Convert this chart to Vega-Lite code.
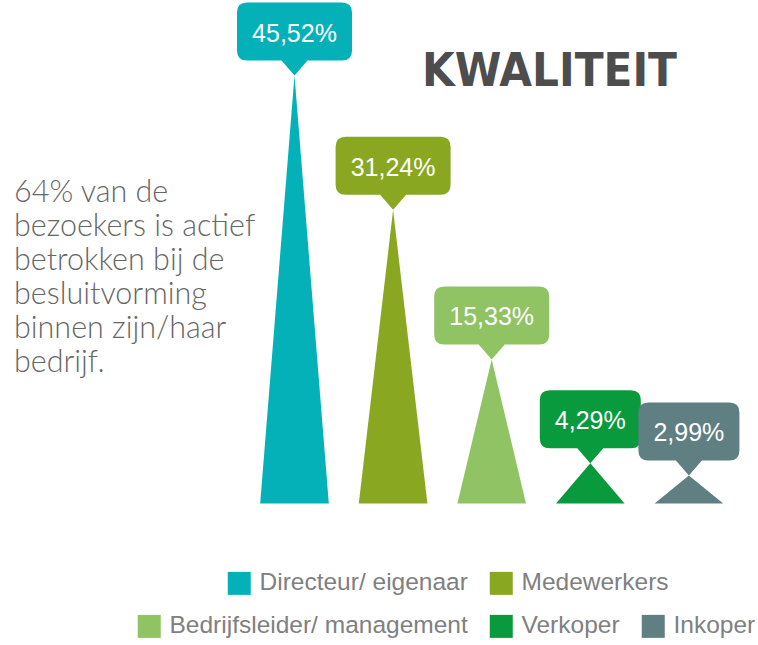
{
  "$schema": "https://vega.github.io/schema/vega-lite/v6.json",
  "width": 758,
  "height": 645,
  "autosize": "none",
  "padding": 0,
  "background": "#ffffff",
  "config": {"view": {"stroke": null}},
  "datasets": {
    "peaks": [
      {"cat": "Directeur/ eigenaar", "idx": 1, "pct": 45.52, "label": "45,52%"},
      {"cat": "Medewerkers", "idx": 2, "pct": 31.24, "label": "31,24%"},
      {"cat": "Bedrijfsleider/ management", "idx": 3, "pct": 15.33, "label": "15,33%"},
      {"cat": "Verkoper", "idx": 4, "pct": 4.29, "label": "4,29%"},
      {"cat": "Inkoper", "idx": 5, "pct": 2.99, "label": "2,99%"}
    ],
    "triangles": [
      {"cat": "Directeur/ eigenaar", "x": 0.652, "pct": 0},
      {"cat": "Directeur/ eigenaar", "x": 1, "pct": 45.52},
      {"cat": "Directeur/ eigenaar", "x": 1.348, "pct": 0},
      {"cat": "Medewerkers", "x": 1.652, "pct": 0},
      {"cat": "Medewerkers", "x": 2, "pct": 31.24},
      {"cat": "Medewerkers", "x": 2.348, "pct": 0},
      {"cat": "Bedrijfsleider/ management", "x": 2.652, "pct": 0},
      {"cat": "Bedrijfsleider/ management", "x": 3, "pct": 15.33},
      {"cat": "Bedrijfsleider/ management", "x": 3.348, "pct": 0},
      {"cat": "Verkoper", "x": 3.652, "pct": 0},
      {"cat": "Verkoper", "x": 4, "pct": 4.29},
      {"cat": "Verkoper", "x": 4.348, "pct": 0},
      {"cat": "Inkoper", "x": 4.652, "pct": 0},
      {"cat": "Inkoper", "x": 5, "pct": 2.99},
      {"cat": "Inkoper", "x": 5.348, "pct": 0}
    ],
    "texts": [
      {"kind": "title", "x": 4.879, "y": 44.4, "t": "KWALITEIT"},
      {"kind": "para", "x": -1.8448, "y": 32.07, "t": "64% van de\nbezoekers is actief\nbetrokken bij de\nbesluitvorming\nbinnen zijn/haar\nbedrijf."}
    ]
  },
  "resolve": {"scale": {"color": "independent"}},
  "layer": [
    {
      "layer": [
        {
          "data": {"name": "triangles"},
          "transform": [{"filter": {"field": "cat", "oneOf": ["Directeur/ eigenaar", "Medewerkers"]}}],
          "mark": {"type": "area", "opacity": 1, "interpolate": "linear"},
          "encoding": {
            "x": {"field": "x", "type": "quantitative", "axis": null, "scale": {"domain": [-1.9868, 5.7008], "nice": false, "zero": false}},
            "y": {"field": "pct", "type": "quantitative", "axis": null, "stack": null, "scale": {"domain": [-15.053, 53.564], "nice": false, "zero": false}},
            "y2": {"datum": 0},
            "detail": {"field": "cat"},
            "color": {
              "field": "cat", "type": "nominal",
              "scale": {"domain": ["Directeur/ eigenaar", "Medewerkers"], "range": ["#05B1B9", "#8AA722"]},
              "legend": {"orient": "none", "legendX": 227, "legendY": 571, "direction": "horizontal", "title": null, "symbolType": "square", "symbolSize": 529, "symbolStrokeWidth": 0, "symbolOpacity": 1, "labelFontSize": 24.5, "labelFont": "Liberation Sans", "labelColor": "#808080", "labelOffset": 8, "columnPadding": 21, "labelLimit": 400, "padding": 0}
            }
          }
        },
        {
          "data": {"name": "peaks"},
          "transform": [{"filter": "datum.idx <= 2"}],
          "mark": {"type": "point", "filled": true, "opacity": 1, "strokeWidth": 0, "size": 10000,
            "shape": "M0,0 L-0.26,-0.3 L-0.95,-0.3 Q-1.15,-0.3 -1.15,-0.5 L-1.15,-1.26 Q-1.15,-1.46 -0.95,-1.46 L0.95,-1.46 Q1.15,-1.46 1.15,-1.26 L1.15,-0.5 Q1.15,-0.3 0.95,-0.3 L0.26,-0.3 Z"},
          "encoding": {
            "x": {"field": "idx", "type": "quantitative", "axis": null},
            "y": {"field": "pct", "type": "quantitative", "axis": null},
            "color": {"field": "cat", "type": "nominal"}
          }
        },
        {
          "data": {"name": "peaks"},
          "transform": [{"filter": "datum.idx <= 2"}],
          "mark": {"type": "text", "color": "#ffffff", "font": "Liberation Sans", "fontSize": 25, "baseline": "middle", "align": "center", "dy": -42},
          "encoding": {
            "x": {"field": "idx", "type": "quantitative", "axis": null},
            "y": {"field": "pct", "type": "quantitative", "axis": null},
            "text": {"field": "label"}
          }
        }
      ]
    },
    {
      "layer": [
        {
          "data": {"name": "triangles"},
          "transform": [{"filter": {"field": "cat", "oneOf": ["Bedrijfsleider/ management", "Verkoper", "Inkoper"]}}],
          "mark": {"type": "area", "opacity": 1, "interpolate": "linear"},
          "encoding": {
            "x": {"field": "x", "type": "quantitative", "axis": null},
            "y": {"field": "pct", "type": "quantitative", "axis": null, "stack": null},
            "y2": {"datum": 0},
            "detail": {"field": "cat"},
            "color": {
              "field": "cat", "type": "nominal",
              "scale": {"domain": ["Bedrijfsleider/ management", "Verkoper", "Inkoper"], "range": ["#8FC364", "#099A3D", "#5F7F83"]},
              "legend": {"orient": "none", "legendX": 137, "legendY": 614, "direction": "horizontal", "title": null, "symbolType": "square", "symbolSize": 529, "symbolStrokeWidth": 0, "symbolOpacity": 1, "labelFontSize": 24.5, "labelFont": "Liberation Sans", "labelColor": "#808080", "labelOffset": 8, "columnPadding": 21, "labelLimit": 400, "padding": 0}
            }
          }
        },
        {
          "data": {"name": "peaks"},
          "transform": [{"filter": "datum.idx == 3"}],
          "mark": {"type": "point", "filled": true, "opacity": 1, "strokeWidth": 0, "size": 10000,
            "shape": "M0,0 L-0.26,-0.3 L-0.95,-0.3 Q-1.15,-0.3 -1.15,-0.5 L-1.15,-1.26 Q-1.15,-1.46 -0.95,-1.46 L0.95,-1.46 Q1.15,-1.46 1.15,-1.26 L1.15,-0.5 Q1.15,-0.3 0.95,-0.3 L0.26,-0.3 Z"},
          "encoding": {
            "x": {"field": "idx", "type": "quantitative", "axis": null},
            "y": {"field": "pct", "type": "quantitative", "axis": null},
            "color": {"field": "cat", "type": "nominal"}
          }
        },
        {
          "data": {"name": "peaks"},
          "transform": [{"filter": "datum.idx >= 4"}],
          "mark": {"type": "point", "filled": true, "opacity": 1, "strokeWidth": 0, "size": 10000,
            "shape": "M0,0 L-0.26,-0.3 L-0.81,-0.3 Q-1.01,-0.3 -1.01,-0.5 L-1.01,-1.26 Q-1.01,-1.46 -0.81,-1.46 L0.81,-1.46 Q1.01,-1.46 1.01,-1.26 L1.01,-0.5 Q1.01,-0.3 0.81,-0.3 L0.26,-0.3 Z"},
          "encoding": {
            "x": {"field": "idx", "type": "quantitative", "axis": null},
            "y": {"field": "pct", "type": "quantitative", "axis": null},
            "color": {"field": "cat", "type": "nominal"}
          }
        },
        {
          "data": {"name": "peaks"},
          "transform": [{"filter": "datum.idx >= 3"}],
          "mark": {"type": "text", "color": "#ffffff", "font": "Liberation Sans", "fontSize": 25, "baseline": "middle", "align": "center", "dy": -42},
          "encoding": {
            "x": {"field": "idx", "type": "quantitative", "axis": null},
            "y": {"field": "pct", "type": "quantitative", "axis": null},
            "text": {"field": "label"}
          }
        }
      ]
    },
    {
      "data": {"name": "texts"},
      "transform": [{"filter": "datum.kind == 'title'"}],
      "mark": {"type": "text", "align": "right", "baseline": "alphabetic", "font": "DejaVu Sans Condensed, DejaVu Sans, sans-serif", "fontWeight": "bold", "fontSize": 47, "color": "#4D4D4D"},
      "encoding": {
        "x": {"field": "x", "type": "quantitative", "axis": null},
        "y": {"field": "y", "type": "quantitative", "axis": null},
        "text": {"field": "t"}
      }
    },
    {
      "data": {"name": "texts"},
      "transform": [{"filter": "datum.kind == 'para'"}],
      "mark": {"type": "text", "align": "left", "baseline": "alphabetic", "font": "Lato", "fontWeight": 300, "fontSize": 30.5, "lineHeight": 34, "lineBreak": "\n", "color": "#666666"},
      "encoding": {
        "x": {"field": "x", "type": "quantitative", "axis": null},
        "y": {"field": "y", "type": "quantitative", "axis": null},
        "text": {"field": "t"}
      }
    }
  ]
}
